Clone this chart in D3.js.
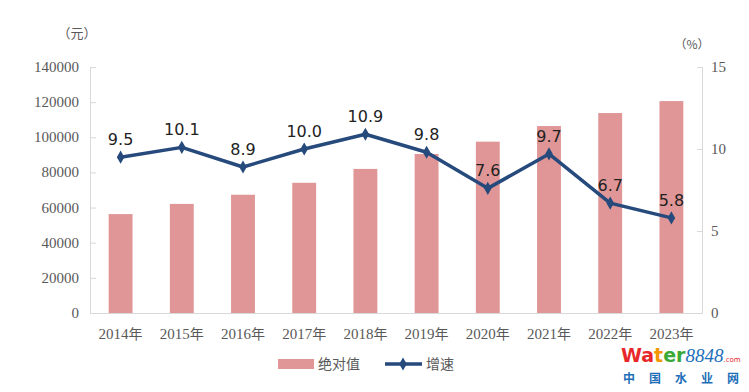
<!DOCTYPE html>
<html><head><meta charset="utf-8">
<script src="https://cdn.jsdelivr.net/npm/d3@7"></script>
<style>body{margin:0;background:#fff}svg{display:block}</style>
</head><body>
<script>
const categories = ["2014年","2015年","2016年","2017年","2018年","2019年","2020年","2021年","2022年","2023年"];
const absValues = [56300, 62100, 67300, 74100, 82000, 90500, 97500, 106400, 113800, 120600];
const growth = [9.5, 10.1, 8.9, 10.0, 10.9, 9.8, 7.6, 9.7, 6.7, 5.8];
const leftTicks = [0,20000,40000,60000,80000,100000,120000,140000];
const rightTicks = [0,5,10,15];

const W=749,H=392;
const svg=d3.select("body").append("svg").attr("width",W).attr("height",H);
const L=90,R=702,T=67,B=313;
const x=d3.scaleBand().domain(categories).range([L,R]).paddingInner(0.61).paddingOuter(0.305);
const yL=d3.scaleLinear().domain([0,140000]).range([B,T]);
const yR=d3.scaleLinear().domain([0,15]).range([B,T]);
const serif="'Liberation Serif','Noto Sans CJK SC',serif";
const cjk="'Noto Sans CJK SC',sans-serif";
const axisCol="#d9d9d9", txt="#595959";

// axes
const gl=svg.append("g").attr("transform",`translate(${L},0)`).call(d3.axisRight(yL).tickValues(leftTicks).tickSize(6).tickFormat(d3.format("d")));
gl.selectAll("text").remove();
gl.selectAll("line,path").attr("stroke",axisCol);
svg.append("g").selectAll("text").data(leftTicks).join("text")
  .attr("x",79).attr("y",d=>yL(d)+5).attr("text-anchor","end")
  .attr("font-family",serif).attr("font-size",15).attr("fill",txt).text(d=>d);
const gr=svg.append("g").attr("transform",`translate(${R},0)`).call(d3.axisLeft(yR).tickValues(rightTicks).tickSize(5));
gr.selectAll("text").remove();
gr.selectAll("line,path").attr("stroke",axisCol);
svg.append("g").selectAll("text").data(rightTicks).join("text")
  .attr("x",711).attr("y",d=>yR(d)+5).attr("text-anchor","start")
  .attr("font-family",serif).attr("font-size",15).attr("fill",txt).text(d=>d);
// bottom axis line
svg.append("line").attr("x1",L).attr("x2",R).attr("y1",B+0.5).attr("y2",B+0.5).attr("stroke",axisCol);

// bars
svg.append("g").selectAll("rect").data(absValues).join("rect")
  .attr("x",(d,i)=>x(categories[i])).attr("width",x.bandwidth())
  .attr("y",d=>yL(d)).attr("height",d=>B-yL(d)).attr("fill","#e09696");

// x labels
svg.append("g").selectAll("text").data(categories).join("text")
  .attr("x",d=>x(d)+x.bandwidth()/2).attr("y",339).attr("text-anchor","middle")
  .attr("fill",txt).attr("font-size",15)
  .each(function(d){
    const s=d3.select(this);
    s.append("tspan").attr("font-family",serif).text(d.slice(0,4));
    s.append("tspan").attr("font-family",cjk).attr("font-size",14).text(d.slice(4));
  });

// line
const lineCol="#264a7c";
const cx=i=>x(categories[i])+x.bandwidth()/2;
svg.append("path").datum(growth).attr("fill","none").attr("stroke",lineCol).attr("stroke-width",3.5)
  .attr("stroke-linejoin","round")
  .attr("d",d3.line().x((d,i)=>cx(i)).y(d=>yR(d)));
svg.append("g").selectAll("path").data(growth).join("path")
  .attr("transform",(d,i)=>`translate(${cx(i)},${yR(d)})`)
  .attr("d",d3.symbol(d3.symbolDiamond,50)).attr("fill",lineCol);
svg.append("g").selectAll("text").data(growth).join("text")
  .attr("x",(d,i)=>cx(i)).attr("y",d=>yR(d)-12).attr("text-anchor","middle")
  .attr("font-family","'DejaVu Sans',sans-serif").attr("font-size",16).attr("fill","#222")
  .text(d=>d.toFixed(1));

// unit labels
svg.append("text").attr("x",77).attr("y",38).attr("text-anchor","middle").attr("font-family",cjk).attr("font-size",13).attr("fill",txt).text("（元）");
svg.append("text").attr("x",692).attr("y",49).attr("text-anchor","middle").attr("font-family",cjk).attr("font-size",12).attr("fill",txt).text("（%）");

// legend
svg.append("rect").attr("x",278).attr("y",359).attr("width",36).attr("height",10).attr("fill","#e09696");
svg.append("text").attr("x",318).attr("y",369).attr("font-family",cjk).attr("font-size",14).attr("fill",txt).text("绝对值");
svg.append("line").attr("x1",385).attr("x2",422).attr("y1",364).attr("y2",364).attr("stroke",lineCol).attr("stroke-width",3.5);
svg.append("path").attr("transform","translate(403,364)").attr("d",d3.symbol(d3.symbolDiamond,50)).attr("fill",lineCol);
svg.append("text").attr("x",426).attr("y",369).attr("font-family",cjk).attr("font-size",14).attr("fill",txt).text("增速");

// watermark
const wm=svg.append("text").attr("x",621).attr("y",362).attr("font-family","'DejaVu Sans',sans-serif").attr("font-weight","bold").attr("font-size",19);
wm.append("tspan").attr("fill","#e8272a").text("Wa");
wm.append("tspan").attr("fill","#f39800").text("t");
wm.append("tspan").attr("fill","#3aa935").text("er");
wm.append("tspan").attr("fill","#1d6fb8").attr("font-style","italic").attr("font-weight","normal").attr("font-family","'Liberation Serif',serif").text("8848");
wm.append("tspan").attr("fill","#e8272a").attr("font-size",7).attr("font-weight","normal").text(".com");
const wmChars=["中","国","水","业","网"];
svg.append("g").selectAll("text").data(wmChars).join("text")
  .attr("x",(d,i)=>629+i*26).attr("y",383).attr("text-anchor","middle")
  .attr("font-family",cjk).attr("font-weight","bold").attr("font-size",12).attr("fill","#1d6fb8").text(d=>d);
</script>
</body></html>
